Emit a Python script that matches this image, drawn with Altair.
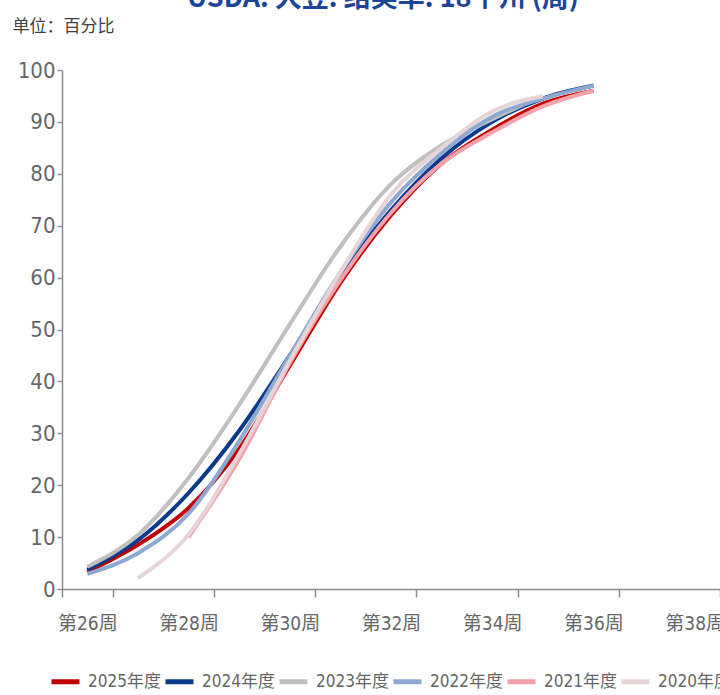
import altair as alt
import pandas as pd

# Week categories on the x axis (band scale, one band per week)
weeks = ["第26周", "第27周", "第28周", "第29周", "第30周", "第31周", "第32周",
         "第33周", "第34周", "第35周", "第36周", "第37周", "第38周"]

seasons = ["2025年度", "2024年度", "2023年度", "2022年度", "2021年度", "2020年度"]
colors = ["#C00000", "#0B3A8C", "#BFBFBF", "#8EA9D1", "#F3A1AA", "#E7D4D7"]

# Soybean pod-setting progress, % (weeks 26..36; None = no report)
pct_2025 = [3.3, 8.5, 15.6, 27.0, 43.0, 59.0, 72.0, 82.0, 88.5, 93.5, 96.0]
pct_2024 = [3.7, 9.4, 18.5, 30.5, 45.0, 60.5, 73.0, 83.0, 90.0, 94.5, 97.0]
pct_2023 = [4.3, 10.4, 21.4, 35.5, 51.0, 66.0, 78.0, 85.5, 90.5, 95.0]
pct_2022 = [2.9, 6.9, 14.5, 28.5, 45.0, 61.0, 74.5, 84.0, 91.0, 94.5, 97.0]
pct_2021 = [None, None, 10.0, 25.0, 43.5, 59.5, 72.5, 82.0, 88.0, 93.0, 96.0]
pct_2020 = [None, 2.1, 10.5, 26.0, 44.0, 61.0, 76.0, 85.0, 92.0, 95.0]

series = [pct_2025, pct_2024, pct_2023, pct_2022, pct_2021, pct_2020]

rows = []
for season, values in zip(seasons, series):
    for wk, v in zip(weeks, values):
        if v is not None:
            rows.append({"周": wk, "年度": season, "百分比": v})
df = pd.DataFrame(rows)

NARROW = "Liberation Sans Narrow, DejaVu Sans Condensed, Noto Sans CJK SC, sans-serif"

chart = alt.Chart(df).mark_line(
    strokeWidth=4, interpolate="monotone"
).encode(
    x=alt.X(
        "周:O",
        scale=alt.Scale(type="band", domain=weeks, paddingInner=0, paddingOuter=0),
        axis=alt.Axis(
            values=weeks[::2], tickBand="extent", labelAngle=0, title=None,
            domainColor="#8C8C8C", domainWidth=1.5, tickColor="#8C8C8C",
            tickWidth=1.5, tickSize=8, labelFont=NARROW, labelFontSize=19,
            labelColor="#666666", labelPadding=17,
        ),
    ),
    y=alt.Y(
        "百分比:Q",
        scale=alt.Scale(domain=[0, 100], nice=False),
        axis=alt.Axis(
            values=list(range(0, 101, 10)), grid=False,
            title="单位：百分比", titleAngle=0, titleX=-50, titleY=-44,
            titleAlign="left", titleBaseline="middle", titleFont="Noto Sans CJK SC",
            titleFontSize=17, titleFontWeight="normal", titleColor="#404040",
            domainColor="#8C8C8C", domainWidth=1.5, tickColor="#8C8C8C",
            tickWidth=1.5, tickSize=5, labelFont=NARROW, labelFontSize=22,
            labelColor="#666666", labelPadding=2,
        ),
    ),
    color=alt.Color(
        "年度:N",
        scale=alt.Scale(domain=seasons, range=colors),
        legend=alt.Legend(
            orient="none", legendX=-13, legendY=595, direction="horizontal",
            columns=6, title=None, symbolType="stroke", symbolSize=784,
            symbolStrokeWidth=5, labelFont=NARROW, labelFontSize=17,
            labelColor="#666666", labelOffset=6, columnPadding=-6, padding=0,
        ),
    ),
).properties(
    width=658,
    height=519,
    padding={"left": 62, "top": 70, "right": 0, "bottom": 106},
    autosize=alt.AutoSizeParams(type="none"),
    title=alt.TitleParams(
        text="USDA: 大豆: 结荚率: 18个州 (周)",
        font="Noto Sans CJK SC", fontSize=27, fontWeight="bold",
        color="#1A4599", anchor="middle", offset=4, dx=-8,
    ),
).configure_view(stroke=None)

chart.save("out.html", embed_options={"renderer": "svg", "actions": False})
